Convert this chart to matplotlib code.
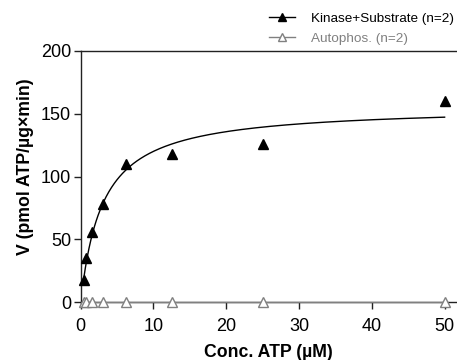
import matplotlib
matplotlib.use("Agg")
import matplotlib.pyplot as plt
import numpy as np

plt.rcParams['font.family'] = ['Liberation Sans', 'DejaVu Sans']

# ATP concentrations (uM), two-fold dilution series
atp = [0.39, 0.78, 1.5625, 3.125, 6.25, 12.5, 25, 50]
kinase_sub = [18, 35, 56, 78, 110, 118, 126, 160]
autophos = [0, 0, 0, 0, 0, 0, 0, 0]

# Michaelis-Menten fit parameters
vmax = 156.0
km = 3.0

fig = plt.figure(figsize=(4.57, 3.60), dpi=100)
ax = fig.add_axes([0.1766, 0.1603, 0.8234, 0.6988])

xfit = np.linspace(atp[0], atp[-1], 400)
ax.plot(xfit, vmax * xfit / (km + xfit), color='black', lw=1.0, zorder=3)
ax.plot([atp[0], atp[-1]], [0, 0], color='#808080', lw=1.0, zorder=3, clip_on=False)

ax.plot(atp, kinase_sub, ls='none', marker='^', ms=7, color='black', clip_on=False, zorder=4)
ax.plot(atp, autophos, ls='none', marker='^', ms=7, mfc='white', mec='#808080',
        mew=1.0, clip_on=False, zorder=4)

ax.set_xlim(0, 51.7)
ax.set_ylim(0, 200)
ax.set_xticks([0, 10, 20, 30, 40, 50])
ax.set_yticks([0, 50, 100, 150, 200])
ax.spines['right'].set_visible(False)
for s in ['left', 'bottom', 'top']:
    ax.spines[s].set_linewidth(1.0)
    ax.spines[s].set_color('#222222')
ax.tick_params(direction='out', length=5, width=1.0, labelsize=13, color='#222222', pad=2)
ax.tick_params(axis='x', pad=6)

ax.set_xlabel('Conc. ATP (µM)', fontsize=12.7, fontweight='bold', labelpad=7)
ax.set_ylabel('V (pmol ATP/µg×min)', fontsize=12.7, fontweight='bold', labelpad=5)
ax.yaxis.label.set_y(0.54)

h1, = ax.plot([], [], color='black', marker='^', ms=6, lw=1.0)
h2, = ax.plot([], [], color='#808080', marker='^', ms=6, mfc='white', lw=1.0)
leg = fig.legend([h1, h2], ['Kinase+Substrate (n=2)', 'Autophos. (n=2)'],
                 loc='upper right', bbox_to_anchor=(1.011, 0.987), frameon=False,
                 fontsize=9.7, handlelength=2.0, handletextpad=1.15, labelspacing=0.55,
                 borderaxespad=0.2)
leg.get_texts()[1].set_color('#808080')

fig.savefig('out.png', dpi=100)
